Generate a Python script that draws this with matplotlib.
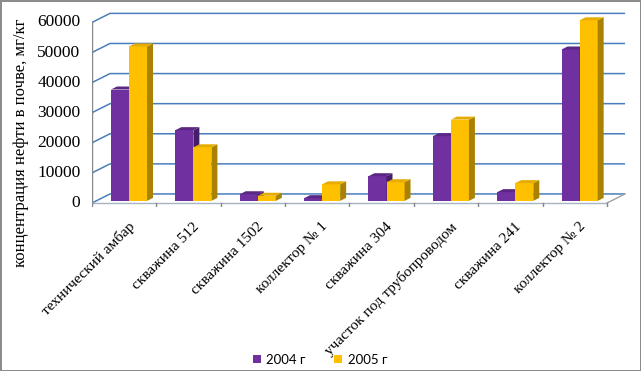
import matplotlib.pyplot as plt
from matplotlib.patches import Polygon

# Data
sites = ['технический амбар', 'скважина 512', 'скважина 1502', 'коллектор № 1',
         'скважина 304', 'участок под трубопроводом', 'скважина 241', 'коллектор № 2']
y2004 = [37000, 23500, 2200, 900, 8200, 21500, 2900, 50300]
y2005 = [51300, 17800, 1700, 5500, 6200, 27000, 5900, 60000]
yticks = [0, 10000, 20000, 30000, 40000, 50000, 60000]

purple = ('#7030a0', '#5a2785', '#461d69')   # front, top, side
yellow = ('#ffc000', '#e6ad00', '#a88200')

serif = 'Liberation Serif'

fig = plt.figure(figsize=(6.41, 3.71), dpi=100, facecolor='white',
                 edgecolor='#8c8c8c', linewidth=2)
ax = fig.add_axes([0.1435, 0.4423, 0.8336, 0.5257])
ax.set_xlim(-0.5, 7.8)
ax.set_ylim(-1300, 63500)
ax.axis('off')

# back wall depth offset (data units)
wdx, wdy = 0.28, 3000
# bar depth: base lift, and depth of the bar itself
lift = 700
bdx, bdy = 0.093, 1000
w = 0.28
n = len(sites)

# gridlines on the back wall with diagonal on the left side wall
for v in yticks:
    ax.plot([-0.5, -0.5 + wdx, n - 0.5 + wdx], [v, v + wdy, v + wdy],
            color='#4a7ebb', lw=1.1, zorder=0, solid_capstyle='butt')
    ax.plot([-0.5, -0.55], [v, v], color='#868686', lw=1, zorder=1)
    ax.text(-0.68, v, f'{v}', ha='right', va='center', fontsize=12.5,
            family=serif, color='black')
# floor right edge
ax.plot([n - 0.5, n - 0.5 + wdx], [0, wdy], color='#a0a0a0', lw=1, zorder=0)
# front axes
ax.plot([-0.5, -0.5], [0, 60000], color='#868686', lw=1, zorder=1)
ax.plot([-0.5, n - 0.5], [0, 0], color='#a8b4c4', lw=1, zorder=1)
for i in range(n + 1):
    ax.plot([i - 0.5, i - 0.5], [0, -1700], color='#868686', lw=1, zorder=1)


def bar3d(x, v, cols):
    front, top, side = cols
    b, t = lift, v + lift
    ax.add_patch(Polygon([(x - w / 2, b), (x + w / 2, b), (x + w / 2, t), (x - w / 2, t)],
                         closed=True, fc=front, ec='none', zorder=3))
    ax.add_patch(Polygon([(x + w / 2, b), (x + w / 2 + bdx, b + bdy), (x + w / 2 + bdx, t + bdy),
                          (x + w / 2, t)], closed=True, fc=side, ec='none', zorder=3))
    ax.add_patch(Polygon([(x - w / 2, t), (x - w / 2 + bdx, t + bdy), (x + w / 2 + bdx, t + bdy),
                          (x + w / 2, t)], closed=True, fc=top, ec='none', zorder=3))


for i in range(n):
    bar3d(i - 0.065, y2004[i], purple)
    bar3d(i + 0.215, y2005[i], yellow)

# category labels
for i, s in enumerate(sites):
    ax.text(i + 0.06, -5600, s, rotation=45, rotation_mode='anchor', ha='right', va='top',
            fontsize=11, family=serif)

fig.text(0.032, 0.615, 'концентрация нефти в почве, мг/кг', rotation=90, ha='center',
         va='center', fontsize=12, family=serif)

# legend
h1 = plt.Rectangle((0, 0), 1, 1, fc=purple[0])
h2 = plt.Rectangle((0, 0), 1, 1, fc=yellow[0])
fig.legend([h1, h2], ['2004 г', '2005 г'], loc='center', bbox_to_anchor=(0.499, 0.030),
           ncol=2, frameon=False, prop={'family': 'Lato', 'size': 9.5},
           handlelength=0.6, handleheight=0.6, columnspacing=2.2, handletextpad=0.4)

fig.savefig('out.png', dpi=100)
